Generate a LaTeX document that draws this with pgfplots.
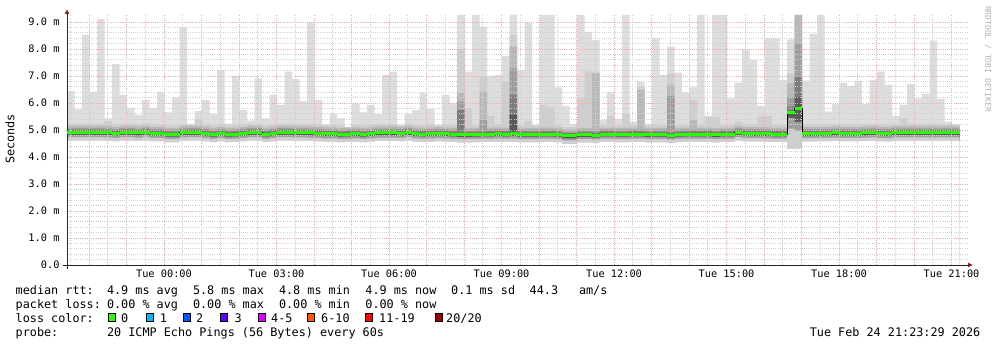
\documentclass[border=0pt]{standalone}
\usepackage{pgfplots}
\pgfplotsset{compat=1.18}
\usepackage{pgfplotstable}
\usepackage{fontspec}
\setmainfont{DejaVu Sans Mono}
\usetikzlibrary{arrows.meta}

\definecolor{sm1}{RGB}{221,221,221}
\definecolor{sm2}{RGB}{206,206,206}
\definecolor{sm3}{RGB}{184,184,184}
\definecolor{sm4}{RGB}{158,158,158}
\definecolor{sm5}{RGB}{124,124,124}
\definecolor{sm6}{RGB}{88,88,88}
\definecolor{lc0}{HTML}{26FF00}
\definecolor{lc1}{HTML}{00B8FF}
\definecolor{lc2}{HTML}{0059FF}
\definecolor{lc3}{HTML}{5E00FF}
\definecolor{lc4}{HTML}{DD00FF}
\definecolor{lc5}{HTML}{FF5500}
\definecolor{lc6}{HTML}{FF0000}
\definecolor{lc7}{HTML}{A10000}
\definecolor{mgrid}{RGB}{240,172,172}
\definecolor{mingrid}{RGB}{208,208,208}
\definecolor{arrowred}{RGB}{150,20,20}

\newcommand\axfont{\fontsize{10.3bp}{12bp}\selectfont}
\newcommand\legfont{\fontsize{11.8bp}{14bp}\selectfont}

% x = column index (12 min per column), t1..t6 smoke levels (ms), m = median, l3..l1 lower smoke levels
\pgfplotstableread{
x t1 t2 t3 t4 t5 t6 m l3 l2 l1
0 6.44 5.24 5.15 5.07 5.01 4.95 4.91 4.82 4.74 4.61
1 5.76 5.24 5.15 5.07 5.01 4.95 4.91 4.82 4.74 4.61
2 8.52 5.24 5.15 5.07 5.01 4.95 4.91 4.82 4.74 4.61
3 6.41 5.24 5.15 5.07 5.01 4.95 4.91 4.82 4.74 4.61
4 9.11 5.24 5.15 5.07 5.01 4.95 4.91 4.82 4.74 4.61
5 5.43 5.33 5.14 5.06 5.00 4.94 4.90 4.81 4.73 4.60
6 7.44 5.21 5.12 5.04 4.98 4.92 4.88 4.79 4.71 4.58
7 6.30 5.24 5.15 5.07 5.01 4.95 4.91 4.82 4.74 4.61
8 5.81 5.24 5.15 5.07 5.01 4.95 4.91 4.82 4.74 4.61
9 5.56 5.22 5.13 5.05 4.99 4.93 4.89 4.80 4.72 4.59
10 6.11 5.25 5.16 5.08 5.02 4.96 4.92 4.83 4.75 4.62
11 5.81 5.21 5.12 5.04 4.98 4.92 4.88 4.79 4.71 4.58
12 6.41 5.21 5.12 5.04 4.98 4.92 4.88 4.79 4.71 4.58
13 5.65 5.17 5.08 5.00 4.94 4.88 4.84 4.75 4.67 4.54
14 6.21 5.17 5.08 5.00 4.94 4.88 4.84 4.75 4.67 4.54
15 8.81 5.23 5.14 5.06 5.00 4.94 4.90 4.81 4.73 4.60
16 5.22 5.20 5.15 5.07 5.01 4.95 4.91 4.82 4.74 4.61
17 5.70 5.39 5.15 5.07 5.01 4.95 4.91 4.82 4.74 4.61
18 6.11 5.21 5.12 5.04 4.98 4.92 4.88 4.79 4.71 4.58
19 5.59 5.17 5.08 5.00 4.94 4.88 4.84 4.75 4.67 4.54
20 7.22 5.21 5.12 5.04 4.98 4.92 4.88 4.79 4.71 4.58
21 5.24 5.17 5.08 5.00 4.94 4.88 4.84 4.75 4.67 4.54
22 7.00 5.18 5.09 5.01 4.95 4.89 4.85 4.76 4.68 4.55
23 5.74 5.21 5.12 5.04 4.98 4.92 4.88 4.79 4.71 4.58
24 5.35 5.24 5.15 5.07 5.01 4.95 4.91 4.82 4.74 4.61
25 6.91 5.24 5.15 5.07 5.01 4.95 4.91 4.82 4.74 4.61
26 5.43 5.18 5.09 5.01 4.95 4.89 4.85 4.76 4.68 4.55
27 6.30 5.21 5.12 5.04 4.98 4.92 4.88 4.79 4.71 4.58
28 5.93 5.24 5.15 5.07 5.01 4.95 4.91 4.82 4.74 4.61
29 7.16 5.24 5.15 5.07 5.01 4.95 4.91 4.82 4.74 4.61
30 6.88 5.23 5.14 5.06 5.00 4.94 4.90 4.81 4.73 4.60
31 6.07 5.23 5.14 5.06 5.00 4.94 4.90 4.81 4.73 4.60
32 8.98 5.22 5.13 5.05 4.99 4.93 4.89 4.80 4.72 4.59
33 6.11 5.21 5.12 5.04 4.98 4.92 4.88 4.79 4.71 4.58
34 5.19 5.19 5.10 5.02 4.96 4.90 4.86 4.77 4.69 4.56
35 5.62 5.19 5.10 5.02 4.96 4.90 4.86 4.77 4.69 4.56
36 5.43 5.17 5.08 5.00 4.94 4.88 4.84 4.75 4.67 4.54
37 5.12 5.12 5.09 5.01 4.95 4.89 4.85 4.76 4.68 4.55
38 5.99 5.19 5.10 5.02 4.96 4.90 4.86 4.77 4.69 4.56
39 5.65 5.17 5.08 5.00 4.94 4.88 4.84 4.75 4.67 4.54
40 5.93 5.19 5.10 5.02 4.96 4.90 4.86 4.77 4.69 4.56
41 5.59 5.22 5.13 5.05 4.99 4.93 4.89 4.80 4.72 4.59
42 7.04 5.22 5.13 5.05 4.99 4.93 4.89 4.80 4.72 4.59
43 7.16 5.22 5.13 5.05 4.99 4.93 4.89 4.80 4.72 4.59
44 5.19 5.17 5.12 5.04 4.98 4.92 4.88 4.79 4.71 4.58
45 5.59 5.24 5.15 5.07 5.01 4.95 4.91 4.82 4.74 4.61
46 5.74 5.19 5.10 5.02 4.96 4.90 4.86 4.77 4.69 4.56
47 6.38 5.18 5.09 5.01 4.95 4.89 4.85 4.76 4.68 4.55
48 5.79 5.19 5.10 5.02 4.96 4.90 4.86 4.77 4.69 4.56
49 5.19 5.17 5.12 5.04 4.98 4.92 4.88 4.79 4.71 4.58
50 6.30 5.19 5.10 5.02 4.96 4.90 4.86 4.77 4.69 4.56
51 5.99 5.18 5.09 5.01 4.95 4.89 4.85 4.76 4.68 4.55
52 9.26 7.99 6.37 6.05 5.74 4.87 4.83 4.74 4.66 4.53
53 7.16 5.81 5.07 4.99 4.93 4.87 4.83 4.74 4.66 4.53
54 9.26 5.17 5.08 5.00 4.94 4.88 4.84 4.75 4.67 4.54
55 8.83 6.97 6.42 5.37 4.95 4.89 4.85 4.76 4.68 4.55
56 7.00 5.52 5.09 5.01 4.95 4.89 4.85 4.76 4.68 4.55
57 7.04 5.19 5.10 5.02 4.96 4.90 4.86 4.77 4.69 4.56
58 7.74 6.81 5.09 5.01 4.95 4.89 4.85 4.76 4.68 4.55
59 9.26 8.52 8.09 7.28 6.30 5.56 4.86 4.77 4.69 4.56
60 7.22 5.17 5.08 5.00 4.94 4.88 4.84 4.75 4.67 4.54
61 8.98 5.34 5.08 5.00 4.94 4.88 4.84 4.75 4.67 4.54
62 5.19 5.17 5.08 5.00 4.94 4.88 4.84 4.75 4.67 4.54
63 9.26 5.93 5.09 5.01 4.95 4.89 4.85 4.76 4.68 4.55
64 9.26 5.86 5.09 5.01 4.95 4.89 4.85 4.76 4.68 4.55
65 6.58 5.17 5.08 5.00 4.94 4.88 4.84 4.75 4.67 4.54
66 5.89 5.11 5.02 4.94 4.88 4.82 4.78 4.69 4.61 4.48
67 5.22 5.11 5.02 4.94 4.88 4.82 4.78 4.69 4.61 4.48
68 9.26 6.17 5.07 4.99 4.93 4.87 4.83 4.74 4.66 4.53
69 8.63 7.16 5.07 4.99 4.93 4.87 4.83 4.74 4.66 4.53
70 8.33 7.16 7.10 4.97 4.91 4.85 4.81 4.72 4.64 4.51
71 5.37 5.18 5.09 5.01 4.95 4.89 4.85 4.76 4.68 4.55
72 6.38 5.52 5.09 5.01 4.95 4.89 4.85 4.76 4.68 4.55
73 5.41 5.17 5.08 5.00 4.94 4.88 4.84 4.75 4.67 4.54
74 9.26 5.59 5.08 5.00 4.94 4.88 4.84 4.75 4.67 4.54
75 5.31 5.18 5.09 5.01 4.95 4.89 4.85 4.76 4.68 4.55
76 6.79 6.60 6.48 5.01 4.95 4.89 4.85 4.76 4.68 4.55
77 5.24 5.16 5.07 4.99 4.93 4.87 4.83 4.74 4.66 4.53
78 8.39 5.21 5.08 5.00 4.94 4.88 4.84 4.75 4.67 4.54
79 7.04 5.17 5.08 5.00 4.94 4.88 4.84 4.75 4.67 4.54
80 8.09 7.10 6.67 6.26 4.91 4.85 4.81 4.72 4.64 4.51
81 7.12 5.17 5.08 5.00 4.94 4.88 4.84 4.75 4.67 4.54
82 6.38 5.18 5.09 5.01 4.95 4.89 4.85 4.76 4.68 4.55
83 6.58 6.11 5.37 5.01 4.95 4.89 4.85 4.76 4.68 4.55
84 9.26 5.18 5.09 5.01 4.95 4.89 4.85 4.76 4.68 4.55
85 5.52 5.49 5.09 5.01 4.95 4.89 4.85 4.76 4.68 4.55
86 9.26 5.47 5.07 4.99 4.93 4.87 4.83 4.74 4.66 4.53
87 9.26 5.18 5.09 5.01 4.95 4.89 4.85 4.76 4.68 4.55
88 6.17 5.18 5.09 5.01 4.95 4.89 4.85 4.76 4.68 4.55
89 6.75 5.31 5.15 5.07 5.01 4.95 4.91 4.82 4.74 4.61
90 7.99 5.21 5.12 5.04 4.98 4.92 4.88 4.79 4.71 4.58
91 7.59 5.20 5.11 5.03 4.97 4.91 4.87 4.78 4.70 4.57
92 5.89 5.50 5.11 5.03 4.97 4.91 4.87 4.78 4.70 4.57
93 8.39 5.52 5.10 5.02 4.96 4.90 4.86 4.77 4.69 4.56
94 8.39 5.18 5.09 5.01 4.95 4.89 4.85 4.76 4.68 4.55
95 6.85 5.18 5.09 5.01 4.95 4.89 4.85 4.76 4.68 4.55
96 8.36 7.10 6.73 6.21 5.87 5.67 5.63 5.45 5.05 4.30
97 9.26 9.26 9.26 8.21 6.97 6.23 5.80 5.30 4.98 4.30
98 6.83 5.20 5.11 5.03 4.97 4.91 4.87 4.78 4.70 4.57
99 8.56 5.20 5.11 5.03 4.97 4.91 4.87 4.78 4.70 4.57
100 9.26 5.21 5.12 5.04 4.98 4.92 4.88 4.79 4.71 4.58
101 5.68 5.21 5.12 5.04 4.98 4.92 4.88 4.79 4.71 4.58
102 5.96 5.22 5.13 5.05 4.99 4.93 4.89 4.80 4.72 4.59
103 6.75 5.21 5.12 5.04 4.98 4.92 4.88 4.79 4.71 4.58
104 6.63 5.21 5.12 5.04 4.98 4.92 4.88 4.79 4.71 4.58
105 6.83 5.21 5.12 5.04 4.98 4.92 4.88 4.79 4.71 4.58
106 5.96 5.22 5.13 5.05 4.99 4.93 4.89 4.80 4.72 4.59
107 6.85 5.23 5.14 5.06 5.00 4.94 4.90 4.81 4.73 4.60
108 7.16 5.21 5.12 5.04 4.98 4.92 4.88 4.79 4.71 4.58
109 6.67 5.20 5.11 5.03 4.97 4.91 4.87 4.78 4.70 4.57
110 5.52 5.23 5.14 5.06 5.00 4.94 4.90 4.81 4.73 4.60
111 5.93 5.43 5.14 5.06 5.00 4.94 4.90 4.81 4.73 4.60
112 6.70 5.23 5.14 5.06 5.00 4.94 4.90 4.81 4.73 4.60
113 6.17 5.23 5.14 5.06 5.00 4.94 4.90 4.81 4.73 4.60
114 6.33 5.23 5.14 5.06 5.00 4.94 4.90 4.81 4.73 4.60
115 8.31 5.23 5.14 5.06 5.00 4.94 4.90 4.81 4.73 4.60
116 6.15 5.23 5.14 5.06 5.00 4.94 4.90 4.81 4.73 4.60
117 5.31 5.23 5.14 5.06 5.00 4.94 4.90 4.81 4.73 4.60
118 5.22 5.20 5.14 5.06 5.00 4.94 4.90 4.81 4.73 4.60
119 5.22 5.20 5.14 5.06 5.00 4.94 4.90 4.81 4.73 4.60
}\smoke

\pgfplotsset{frame/.style={at={(67bp,82bp)}, anchor=south west,
  scale only axis, width=900bp, height=250bp,
  xmin=0, xmax=120, ymin=0, ymax=9.259, enlargelimits=false}}

\begin{document}
\begin{tikzpicture}[x=1bp,y=1bp]
\fill[white] (0,0) rectangle (997,347);
\useasboundingbox (0,0) rectangle (997,347);
\begin{axis}[
  frame, clip=true,
  axis on top,
  axis x line=bottom, axis y line=left,
  axis line style={draw=black!85, line width=0.9bp},
  x axis line style={shorten <=-4bp, shorten >=-6bp, -{Latex[length=5bp,width=5bp,color=arrowred]}},
  y axis line style={shorten <=-4bp, shorten >=-6bp, -{Latex[length=5bp,width=5bp,color=arrowred]}},
  major tick length=0pt, minor tick length=0pt,
  tick style={draw=none},
  xtick={2.933,7.933,12.933,17.933,22.933,27.933,32.933,37.933,42.933,47.933,52.933,57.933,62.933,67.933,72.933,77.933,82.933,87.933,92.933,97.933,102.933,107.933,112.933,117.933},
  xticklabels={,,Tue 00:00,,,Tue 03:00,,,Tue 06:00,,,Tue 09:00,,,Tue 12:00,,,Tue 15:00,,,Tue 18:00,,,Tue 21:00},
  minor xtick={0.433,5.433,10.433,15.433,20.433,25.433,30.433,35.433,40.433,45.433,50.433,55.433,60.433,65.433,70.433,75.433,80.433,85.433,90.433,95.433,100.433,105.433,110.433,115.433},
  ytick={0,1,2,3,4,5,6,7,8,9},
  yticklabels={0.0,1.0 m,2.0 m,3.0 m,4.0 m,5.0 m,6.0 m,7.0 m,8.0 m,9.0 m},
  minor y tick num=4,
  grid=both,
  major grid style={draw=mgrid, line width=0.9bp, dash pattern=on 1bp off 1.2bp},
  minor grid style={draw=mingrid, line width=0.9bp, dash pattern=on 1bp off 1.2bp},
  /pgf/number format/assume math mode=true,
  xticklabel style={font=\axfont, anchor=base, yshift=-12.7bp},
  yticklabel style={font=\axfont, anchor=east, xshift=-4bp},
  ylabel={Seconds},
  ylabel style={at={(axis description cs:-0.0633,0.504)}, anchor=center, font=\legfont},
]
\addplot[const plot mark left, fill=sm1, draw=none] table[x=x,y=t1] {\smoke} \closedcycle;
\addplot[const plot mark left, fill=sm2, draw=none] table[x=x,y=t2] {\smoke} \closedcycle;
\addplot[const plot mark left, fill=sm3, draw=none] table[x=x,y=t3] {\smoke} \closedcycle;
\addplot[const plot mark left, fill=sm4, draw=none] table[x=x,y=t4] {\smoke} \closedcycle;
\addplot[const plot mark left, fill=sm5, draw=none] table[x=x,y=t5] {\smoke} \closedcycle;
\addplot[const plot mark left, fill=sm6, draw=none] table[x=x,y=t6] {\smoke} \closedcycle;
\addplot[const plot mark left, fill=sm4, draw=none] table[x=x,y=l3] {\smoke} \closedcycle;
\addplot[const plot mark left, fill=sm2, draw=none] table[x=x,y=l2] {\smoke} \closedcycle;
\addplot[const plot mark left, fill=white, draw=none] table[x=x,y=l1] {\smoke} \closedcycle;
\end{axis}
% median line drawn over the grid, in an identical second axis
\begin{axis}[frame, hide axis, clip=true]
\addplot[const plot mark left, draw=black, line width=0.8bp] table[x=x,y=m] {\smoke};
\addplot[jump mark left, draw=lc0, line width=3bp] table[x=x,y=m] {\smoke};
\end{axis}

\tikzset{txt/.style={anchor=base west, inner sep=0pt, font=\legfont}}
\node[txt] at (15.5,52.7) {median rtt:};
\node[txt] at (106.8,52.7) {4.9 ms avg};
\node[txt] at (192.8,52.7) {5.8 ms max};
\node[txt] at (278.8,52.7) {4.8 ms min};
\node[txt] at (365.2,52.7) {4.9 ms now};
\node[txt] at (451,52.7) {0.1 ms sd};
\node[txt] at (529.5,52.7) {44.3};
\node[txt] at (578.8,52.7) {am/s};

\node[txt] at (15.5,38.6) {packet loss:};
\node[txt] at (106.8,38.6) {0.00 \% avg};
\node[txt] at (192.8,38.6) {0.00 \% max};
\node[txt] at (278.8,38.6) {0.00 \% min};
\node[txt] at (365.2,38.6) {0.00 \% now};

\node[txt] at (15.5,24.5) {loss color:};
\draw[fill=lc0, line width=0.8] (108.7,25.7) rectangle ++(7,7.6);
\node[txt] at (121,24.5) {0};
\draw[fill=lc1, line width=0.8] (146.1,25.7) rectangle ++(7,7.6);
\node[txt] at (159.7,24.5) {1};
\draw[fill=lc2, line width=0.8] (183.1,25.7) rectangle ++(7,7.6);
\node[txt] at (196,24.5) {2};
\draw[fill=lc3, line width=0.8] (220.4,25.7) rectangle ++(7,7.6);
\node[txt] at (234.3,24.5) {3};
\draw[fill=lc4, line width=0.8] (258.1,25.7) rectangle ++(7,7.6);
\node[txt] at (271,24.5) {4-5};
\draw[fill=lc5, line width=0.8] (307.1,25.7) rectangle ++(7,7.6);
\node[txt] at (321,24.5) {6-10};
\draw[fill=lc6, line width=0.8] (365.4,25.7) rectangle ++(7,7.6);
\node[txt] at (379,24.5) {11-19};
\draw[fill=lc7, line width=0.8] (435.4,25.7) rectangle ++(7,7.6);
\node[txt] at (446,24.5) {20/20};

\node[txt] at (15.5,10.4) {probe:};
\node[txt] at (106.8,10.4) {20 ICMP Echo Pings (56 Bytes) every 60s};
\node[anchor=base east, inner sep=0pt, font=\legfont] at (980.5,10.4) {Tue Feb 24 21:23:29 2026};

\node[rotate=-90, inner sep=0pt, font=\fontsize{8bp}{9bp}\selectfont, text=black!30] at (988,288) {RRDTOOL / TOBI OETIKER};
\end{tikzpicture}
\end{document}
